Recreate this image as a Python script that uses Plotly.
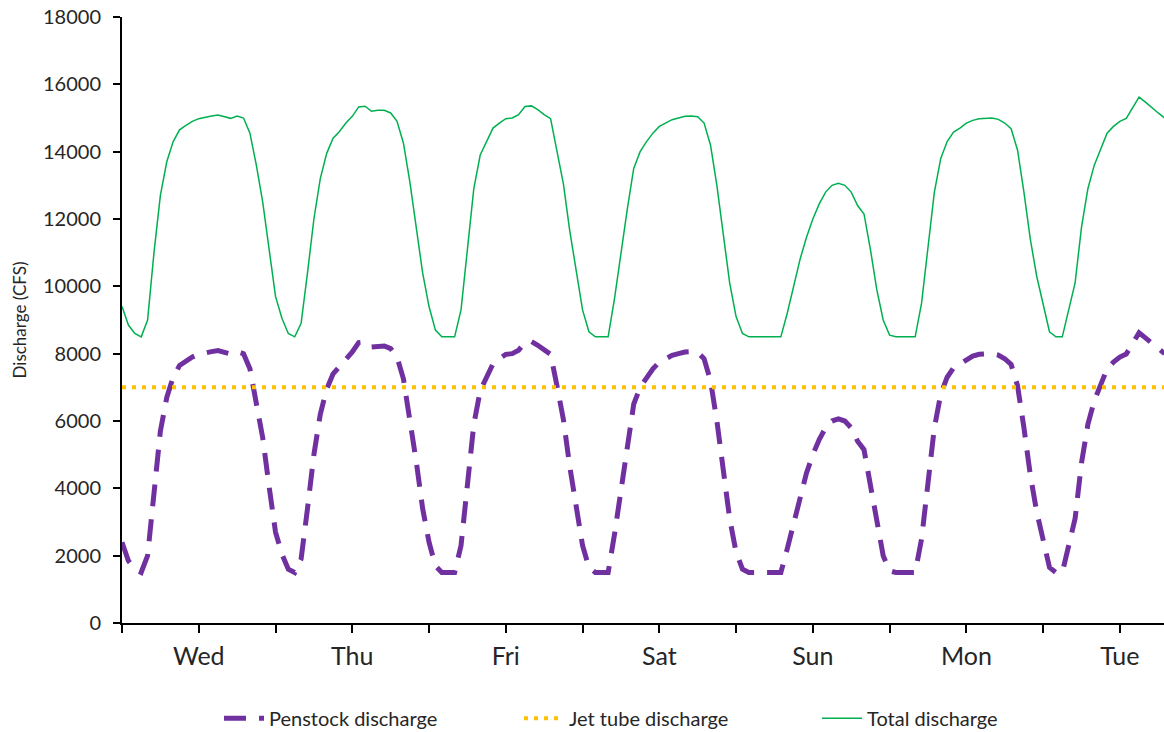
import plotly.graph_objects as go

hours = list(range(164))

total_discharge = [
    9400, 8850, 8600, 8500, 9000, 11000, 12700, 13700, 14300, 14650,
    14780, 14900, 14980, 15030, 15060, 15090, 15050, 14990, 15060, 15000,
    14550, 13600, 12500, 11050, 9700, 9050, 8600, 8500, 8900, 10400,
    12000, 13200, 13950, 14400, 14600, 14850, 15050, 15330, 15350, 15200,
    15230, 15230, 15150, 14900, 14250, 13100, 11800, 10400, 9400, 8700,
    8500, 8500, 8500, 9300, 11100, 12900, 13900, 14300, 14700, 14850,
    14980, 15000, 15100, 15340, 15360, 15250, 15100, 14980, 14050, 13050,
    11650, 10450, 9300, 8650, 8500, 8500, 8500, 9640, 11000, 12300,
    13500, 14000, 14300, 14550, 14750, 14850, 14950, 15000, 15050, 15060,
    15040, 14850, 14200, 13000, 11500, 10100, 9100, 8600, 8500, 8500,
    8500, 8500, 8500, 8500, 9200, 10000, 10800, 11450, 12000, 12450,
    12800, 13000, 13060, 13000, 12800, 12400, 12150, 11100, 9900, 9000,
    8550, 8500, 8500, 8500, 8500, 9500, 11200, 12800, 13800, 14300,
    14580, 14700, 14850, 14930, 14980, 15000, 15000, 14960, 14850, 14680,
    14050, 12800, 11400, 10300, 9500, 8650, 8500, 8500, 9300, 10100,
    11750, 12900, 13600, 14100, 14550, 14750, 14900, 14990, 15300, 15620,
    15470, 15300, 15150, 15000,
]

penstock_discharge = [
    2400, 1850, 1600, 1500, 2000, 4000, 5700, 6700, 7300, 7650,
    7780, 7900, 7980, 8030, 8060, 8090, 8050, 7990, 8060, 8000,
    7550, 6600, 5500, 4050, 2700, 2050, 1600, 1500, 1900, 3400,
    5000, 6200, 6950, 7400, 7600, 7850, 8050, 8330, 8350, 8200,
    8230, 8230, 8150, 7900, 7250, 6100, 4800, 3400, 2400, 1700,
    1500, 1500, 1500, 2300, 4100, 5900, 6900, 7300, 7700, 7850,
    7980, 8000, 8100, 8340, 8360, 8250, 8100, 7980, 7050, 6050,
    4650, 3450, 2300, 1650, 1500, 1500, 1500, 2640, 4000, 5300,
    6500, 7000, 7300, 7550, 7750, 7850, 7950, 8000, 8050, 8060,
    8040, 7850, 7200, 6000, 4500, 3100, 2100, 1600, 1500, 1500,
    1500, 1500, 1500, 1500, 2200, 3000, 3800, 4450, 5000, 5450,
    5800, 6000, 6060, 6000, 5800, 5400, 5150, 4100, 2900, 2000,
    1550, 1500, 1500, 1500, 1500, 2500, 4200, 5800, 6800, 7300,
    7580, 7700, 7850, 7930, 7980, 8000, 8000, 7960, 7850, 7680,
    7050, 5800, 4400, 3300, 2500, 1650, 1500, 1500, 2300, 3100,
    4750, 5900, 6600, 7100, 7550, 7750, 7900, 7990, 8300, 8620,
    8470, 8300, 8150, 8000,
]

jet_tube_hours = [0, 163]
jet_tube_discharge = [7000, 7000]

tick_hours = [0, 12, 24, 36, 48, 60, 72, 84, 96, 108, 120, 132, 144, 156]
tick_labels = ["", "Wed", "", "Thu", "", "Fri", "", "Sat", "", "Sun", "", "Mon", "", "Tue"]

FONT = "Lato, 'Open Sans', sans-serif"
TXT = "#262626"

fig = go.Figure()
fig.add_trace(go.Scatter(
    x=hours, y=penstock_discharge, mode="lines", name="Penstock discharge",
    line=dict(color="#7030A0", width=5, dash="22px,13px"), legend="legend",
))
fig.add_trace(go.Scatter(
    x=jet_tube_hours, y=jet_tube_discharge, mode="lines", name="Jet tube discharge",
    line=dict(color="#FFC000", width=4, dash="4px,6px"), legend="legend2",
))
fig.add_trace(go.Scatter(
    x=hours, y=total_discharge, mode="lines", name="Total discharge",
    line=dict(color="#00B050", width=1.5), legend="legend3",
))

leg_common = dict(
    orientation="h", xanchor="left", y=-0.157, yanchor="middle",
    font=dict(size=20, family=FONT, color=TXT),
    itemwidth=40, bgcolor="rgba(0,0,0,0)",
)

fig.update_layout(
    width=1164, height=732,
    margin=dict(l=122, r=0, t=17, b=109, autoexpand=False),
    paper_bgcolor="white", plot_bgcolor="white",
    font=dict(family=FONT, color=TXT, size=19),
    showlegend=True,
    legend=dict(x=0.0931, **leg_common),
    legend2=dict(x=0.3810, **leg_common),
    legend3=dict(x=0.6670, **leg_common),
    xaxis=dict(
        range=[0, 162.9], showgrid=False, zeroline=False, automargin=False,
        showline=True, linecolor="black", linewidth=2,
        tickmode="array", tickvals=tick_hours, ticktext=tick_labels,
        ticks="outside", ticklen=8, tickwidth=1.5, tickcolor="black",
        tickfont=dict(size=25, family=FONT, color=TXT),
        ticklabelstandoff=2,
    ),
    yaxis=dict(
        range=[0, 18000], dtick=2000, tickformat="d", showgrid=False, zeroline=False,
        automargin=False,
        showline=True, linecolor="black", linewidth=2,
        ticks="outside", ticklen=7, tickwidth=1.5, tickcolor="black",
        tickfont=dict(size=20, family=FONT, color=TXT),
        ticklabelstandoff=8,
        title=dict(text="Discharge (CFS)", font=dict(size=17, family=FONT, color=TXT), standoff=12),
    ),
)

fig.write_html(
    "out.html",
    config={"displayModeBar": False},
    post_script="document.body.style.margin='0';",
)
